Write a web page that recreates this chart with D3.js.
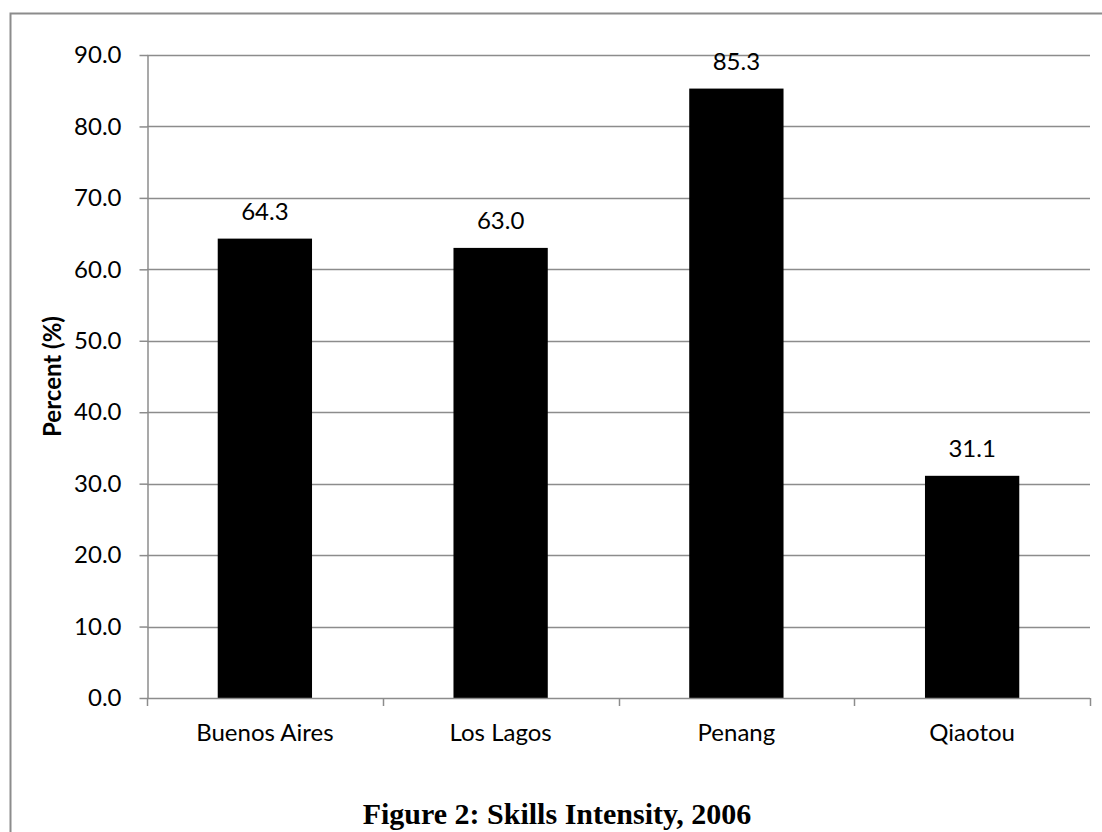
<!DOCTYPE html>
<html>
<head>
<meta charset="utf-8">
<script src="https://cdn.jsdelivr.net/npm/d3@7"></script>
<style>
  html, body { margin: 0; padding: 0; background: #fff; }
  svg { display: block; }
  text { font-family: Lato, "Open Sans", sans-serif; fill: #000; }
</style>
</head>
<body>
<div class="bar-chart-container"></div>
<script>
// Data
const categories = ['Buenos Aires', 'Los Lagos', 'Penang', 'Qiaotou'];
const values = [64.3, 63.0, 85.3, 31.1];
const yTicks = [0, 10, 20, 30, 40, 50, 60, 70, 80, 90];
const yLabel = 'Percent (%)';
const figTitle = 'Figure 2: Skills Intensity, 2006';

function setupCanvas() {
    const svg_width = 1102;
    const svg_height = 832;
    // plot area
    const plot = {left: 147, right: 1090, top: 55, bottom: 698};
    const grey = '#8c8c8c';
    const fontSize = '24px';

    const svg = d3.select('.bar-chart-container').append('svg')
        .attr('width', svg_width).attr('height', svg_height);

    // outer frame (runs off the right/bottom edge)
    svg.append('path')
        .attr('d', `M10.5,${svg_height + 5}V13.5H${svg_width + 5}`)
        .style('fill', 'none').style('stroke', grey).style('stroke-width', 2);

    // scales
    const xScale = d3.scaleBand().domain(categories)
        .range([plot.left, plot.right])
        .paddingInner(0.6).paddingOuter(0.3);
    const yScale = d3.scaleLinear().domain([0, 90]).range([plot.bottom, plot.top]);

    // gridlines
    svg.append('g').attr('class', 'grid')
        .selectAll('line').data(yTicks.filter(d => d > 0)).enter()
        .append('line')
        .attr('x1', plot.left).attr('x2', plot.right)
        .attr('y1', d => Math.round(yScale(d)) + 0.5)
        .attr('y2', d => Math.round(yScale(d)) + 0.5)
        .style('stroke', grey).style('stroke-width', 1.5);

    // bars
    const data = categories.map((c, i) => ({name: c, value: values[i]}));
    svg.append('g').attr('class', 'bars')
        .selectAll('rect').data(data).enter()
        .append('rect')
        .attr('x', d => xScale(d.name))
        .attr('width', xScale.bandwidth())
        .attr('y', d => yScale(d.value))
        .attr('height', d => yScale(0) - yScale(d.value))
        .style('fill', '#000');

    // value labels
    svg.append('g').attr('class', 'bar-labels')
        .selectAll('text').data(data).enter()
        .append('text')
        .attr('x', d => xScale(d.name) + xScale.bandwidth() / 2)
        .attr('y', d => yScale(d.value) - 19)
        .text(d => d3.format('.1f')(d.value))
        .style('text-anchor', 'middle')
        .style('font-size', fontSize);

    // Y axis
    const yAxis = d3.axisLeft(yScale)
        .tickValues(yTicks)
        .tickFormat(d3.format('.1f'))
        .tickSizeInner(8)
        .tickSizeOuter(0)
        .tickPadding(18);
    const yAxisDraw = svg.append('g')
        .attr('class', 'y axis')
        .attr('transform', `translate(${plot.left + 0.5},0)`)
        .call(yAxis);
    yAxisDraw.selectAll('path, line').style('stroke', grey).style('stroke-width', 1.5);
    yAxisDraw.selectAll('text')
        .style('font-family', 'Lato, "Open Sans", sans-serif')
        .style('font-size', fontSize).style('fill', '#000');

    // X axis: tick marks at category boundaries
    const step = xScale.step();
    const bounds = d3.range(categories.length + 1)
        .map(i => plot.left + i * step);
    const xAxisG = svg.append('g').attr('class', 'x axis');
    xAxisG.append('line')
        .attr('x1', plot.left).attr('x2', plot.right)
        .attr('y1', plot.bottom + 0.5).attr('y2', plot.bottom + 0.5)
        .style('stroke', grey).style('stroke-width', 1.5);
    xAxisG.selectAll('.tick').data(bounds).enter()
        .append('line').attr('class', 'tick')
        .attr('x1', d => Math.round(d) + 0.5).attr('x2', d => Math.round(d) + 0.5)
        .attr('y1', plot.bottom).attr('y2', plot.bottom + 8)
        .style('stroke', grey).style('stroke-width', 1.5);
    xAxisG.selectAll('.x-label').data(categories).enter()
        .append('text').attr('class', 'x-label')
        .attr('x', d => xScale(d) + xScale.bandwidth() / 2)
        .attr('y', 741)
        .text(d => d)
        .style('text-anchor', 'middle')
        .style('font-size', fontSize);

    // Y axis title
    svg.append('text')
        .attr('transform', `translate(61,${(plot.top + plot.bottom) / 2}) rotate(-90)`)
        .text(yLabel)
        .style('text-anchor', 'middle')
        .style('font-weight', 'bold')
        .style('font-size', '24px');

    // figure caption
    svg.append('text')
        .attr('x', 557).attr('y', 824)
        .text(figTitle)
        .style('text-anchor', 'middle')
        .style('font-family', '"Liberation Serif", "Times New Roman", serif')
        .style('font-weight', 'bold')
        .style('font-size', '30px');
}

setupCanvas();
</script>
</body>
</html>
